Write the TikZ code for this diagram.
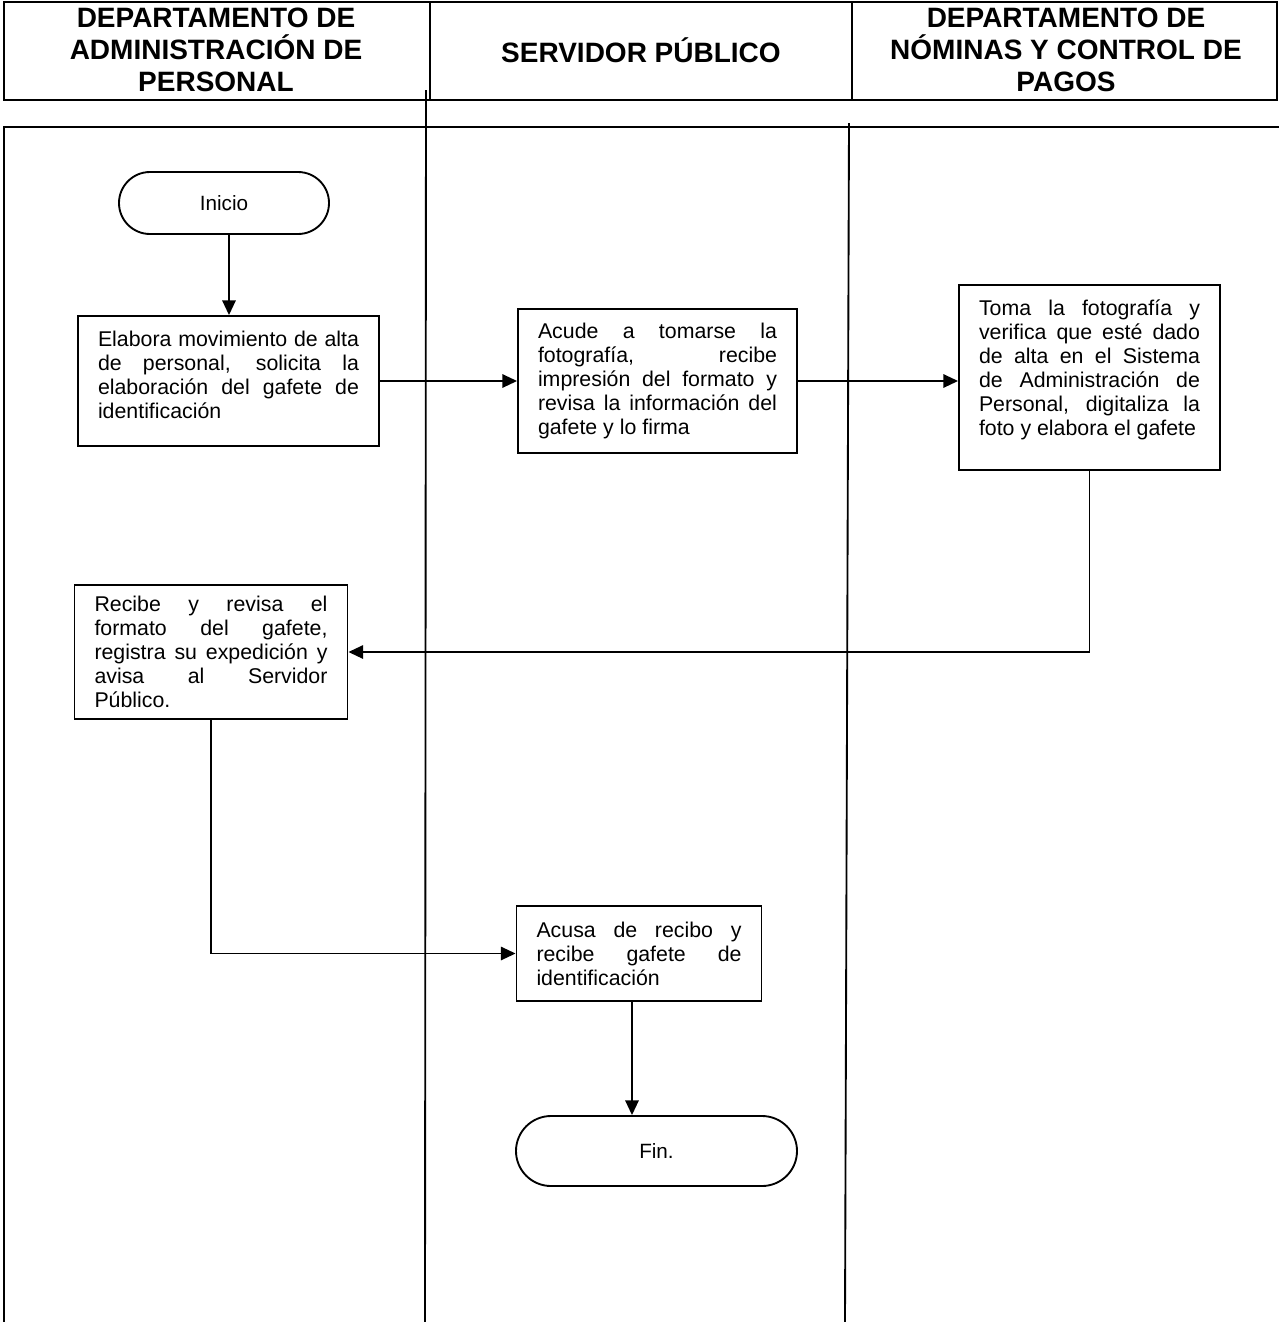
\documentclass[tikz,border=0pt]{standalone}
\usepackage{fontspec}
\setmainfont{Liberation Sans}
\usetikzlibrary{arrows.meta,calc}
\newcommand{\padbottom}[1]{\par\nointerlineskip\vbox to #1{}}
\begin{document}
\begin{tikzpicture}[x=0.75pt,y=-0.75pt,
  hdr/.style={align=center,font=\fontsize{21pt}{24pt}\selectfont\bfseries},
  proc/.style={draw,line width=1.4pt,inner xsep=15pt,inner ysep=4pt,align=justify,font=\fontsize{16pt}{18pt}\selectfont},
  term/.style={draw,line width=1.4pt,align=center,font=\fontsize{15.5pt}{18pt}\selectfont},
  conn/.style={line width=1.4pt,-{Triangle[length=11pt,width=10pt]}},
  lane/.style={line width=1.4pt},
  frame/.style={line width=2.2pt}]
\useasboundingbox (0,0) rectangle (1279,1322);
% header
\draw[frame] (4,2) rectangle (1277,100);
\draw[lane] (430,2) -- (430,100);
\draw[lane] (852,2) -- (852,100);
\node[hdr] (h1) at (216,50) {DEPARTAMENTO DE\\ADMINISTRACIÓN DE\\PERSONAL};
\node[hdr] (h2) at (641,50) {SERVIDOR PÚBLICO};
\node[hdr] (h3) at (1066,50) {DEPARTAMENTO DE\\NÓMINAS Y CONTROL DE\\PAGOS};
% body frame
\draw[frame] (4,1322) -- (4,127) -- (1279,127);
% lane lines
\coordinate (l1t) at (426,90);
\coordinate (l1b) at (425,1322);
\coordinate (l2t) at (849,123);
\coordinate (l2b) at (845,1322);
\draw[lane] (l1t) -- (l1b);
\draw[lane] (l2t) -- (l2b);
% nodes
\node[term,minimum width=157.5pt,minimum height=46.5pt,rounded corners=23.25pt] (inicio) at (224,203) {Inicio};
\node[proc,text width=195.75pt,minimum height=97.5pt] (b1) at (228.5,381)
 {Elabora movimiento de alta\linebreak de personal, solicita la\linebreak elaboración del gafete de\linebreak identificación\padbottom{9pt}};
\node[proc,text width=179.25pt,minimum height=108pt] (b2) at (657.5,381)
 {Acude a tomarse la\linebreak fotografía, recibe\linebreak impresión del formato y\linebreak revisa la información del\linebreak gafete y lo firma};
\node[proc,text width=165.75pt,minimum height=138.75pt] (b3) at (1089.5,377.5)
 {Toma la fotografía y\linebreak verifica que esté dado\linebreak de alta en el Sistema\linebreak de Administración de\linebreak Personal, digitaliza la\linebreak foto y elabora el gafete\padbottom{12pt}};
\node[proc,text width=174.75pt,minimum height=100.5pt] (b4) at (211,652)
 {Recibe y revisa el\linebreak formato del gafete,\linebreak registra su expedición y\linebreak avisa al Servidor\linebreak Público.};
\node[proc,text width=153.75pt,minimum height=71.25pt] (b5) at (639,953.5)
 {Acusa de recibo y\linebreak recibe gafete de\linebreak identificación};
\node[term,minimum width=210.75pt,minimum height=52.5pt,rounded corners=26.25pt] (fin) at (656.5,1151) {Fin.};
% connectors
\draw[conn] ([xshift=3.75pt]inicio.south) -- ([xshift=3.75pt]inicio.south |- b1.north);
\draw[conn] (b1.east) -- (b1.east -| b2.west);
\draw[conn] (b2.east) -- (b2.east -| b3.west);
\draw[conn] (b3.south) |- (b4.east);
\draw[conn] (b4.south) |- (b5.west);
\draw[conn] ([xshift=-5.25pt]b5.south) -- ([xshift=-5.25pt]b5.south |- fin.north);
\end{tikzpicture}
\end{document}
